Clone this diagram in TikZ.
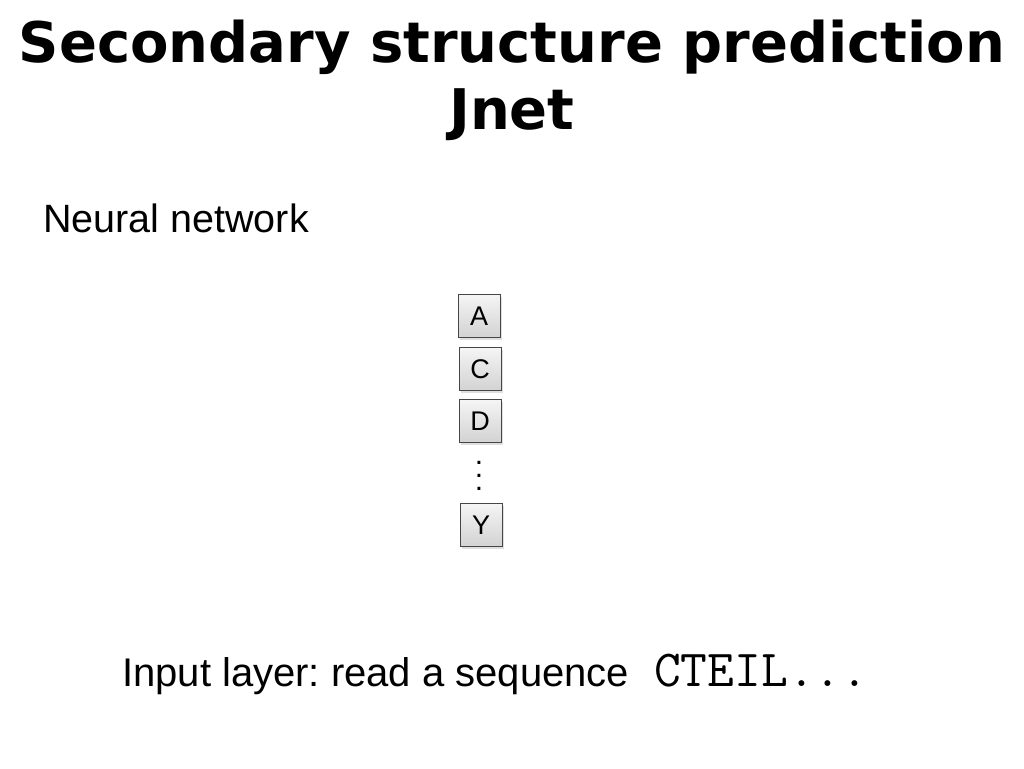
\documentclass[tikz,border=0pt]{standalone}
\usepackage{fontspec}
\setmainfont{Liberation Sans}
\newfontfamily\titlefont{DejaVu Sans}
\usetikzlibrary{shadows}
\frenchspacing
\tikzset{
  aminobox/.style={draw=gray!55!black, line width=0.8pt,
    top color=gray!8, bottom color=gray!35,
    minimum width=42pt, minimum height=43pt, inner sep=0pt,
    font=\fontsize{27}{27}\selectfont,
    drop shadow={opacity=0.25, shadow xshift=2pt, shadow yshift=-2pt}},
  titletext/.style={anchor=base, inner sep=0pt,
    font=\titlefont\bfseries\fontsize{56}{56}\selectfont},
  bodytext/.style={anchor=base west, inner sep=0pt,
    font=\fontsize{40}{40}\selectfont},
}
\begin{document}
\begin{tikzpicture}[x=1pt,y=-1pt]
  \useasboundingbox (0,0) rectangle (1024,768);
  \node[titletext] (title) at (512,63) {Secondary structure prediction};
  \node[titletext] (jnet) at (512,129) {Jnet};
  \node[bodytext, font=\fontsize{39.5}{39.5}\selectfont] (neural) at (43,232) {Neural network};
  % input layer
  \node[aminobox] (A) at (479,316) {A};
  \node[aminobox] (C) at (480,369) {C};
  \node[aminobox] (D) at (480,421) {D};
  \node[align=center, inner sep=0pt, font=\fontsize{30}{13}\selectfont] (dots) at (479,476) {.\\.\\.};
  \node[aminobox] (Y) at (481,525) {Y};
  \node[bodytext] (input) at (122,686)
    {Input layer: read a sequence\hspace{25pt}{\ttfamily\fontsize{52}{52}\selectfont CTEIL...}};
\end{tikzpicture}
\end{document}
